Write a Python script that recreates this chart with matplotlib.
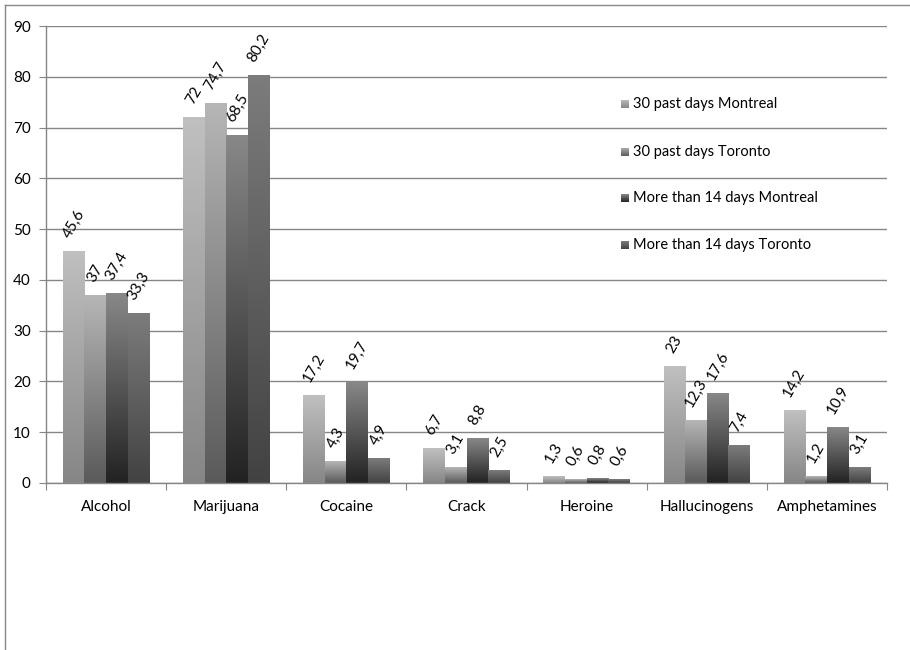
import numpy as np
import matplotlib
matplotlib.use("Agg")
import matplotlib.pyplot as plt
from matplotlib.colors import LinearSegmentedColormap
from matplotlib.lines import Line2D

categories = ["Alcohol", "Marijuana", "Cocaine", "Crack", "Heroine", "Hallucinogens", "Amphetamines"]
series_names = ["30 past days Montreal", "30 past days Toronto",
                "More than 14 days Montreal", "More than 14 days Toronto"]
montreal_30 = [45.6, 72, 17.2, 6.7, 1.3, 23, 14.2]
toronto_30 = [37, 74.7, 4.3, 3.1, 0.6, 12.3, 1.2]
montreal_14 = [37.4, 68.5, 19.7, 8.8, 0.8, 17.6, 10.9]
toronto_14 = [33.3, 80.2, 4.9, 2.5, 0.6, 7.4, 3.1]
y_ticks = [0, 10, 20, 30, 40, 50, 60, 70, 80, 90]

series = [montreal_30, toronto_30, montreal_14, toronto_14]
# (bottom colour, top colour)
grads = [("#868686", "#c0c0c0"), ("#5a5a5a", "#b6b6b6"),
         ("#222222", "#888888"), ("#424242", "#7c7c7c")]

plt.rcParams['font.family'] = ['Lato', 'DejaVu Sans']
FS = 11
LFS = 10.5

W, H = 910, 650
fig = plt.figure(figsize=(W / 100, H / 100), dpi=100)
ax = fig.add_axes([46 / W, 1 - 483 / H, (887 - 46) / W, (483 - 26) / H])

gcol = "#868686"
bar_w = 0.18
group_start = 0.14
grad = np.linspace(0, 1, 256).reshape(-1, 1)

for s, (vals, (cb, ct)) in enumerate(zip(series, grads)):
    cmap = LinearSegmentedColormap.from_list(f"g{s}", [cb, ct])
    for i, v in enumerate(vals):
        x0 = i + group_start + s * bar_w
        x1 = x0 + bar_w
        ax.imshow(grad, extent=(x0, x1, 0, v), origin="lower", aspect="auto",
                  cmap=cmap, zorder=2, interpolation="bilinear")
        lab = f"{v:g}".replace(".", ",")
        ax.annotate(lab, xy=((x0 + x1) / 2, v), xytext=(0, 8), textcoords="offset points",
                    rotation=60, ha="center", va="bottom", fontsize=FS,
                    color="#000000", zorder=3)

ax.set_xlim(0, len(categories))
ax.set_ylim(0, 90)
ax.set_yticks(y_ticks)
ax.set_yticklabels([str(t) for t in y_ticks], fontsize=FS)
ax.yaxis.grid(True, color=gcol, linewidth=1)
ax.set_axisbelow(True)

ax.set_xticks(np.arange(len(categories) + 1))
ax.set_xticklabels([])
ax.set_xticks(np.arange(len(categories)) + 0.5, minor=True)
ax.set_xticklabels(categories, minor=True, fontsize=FS)
ax.tick_params(axis="x", which="major", length=5, color=gcol, direction="out")
ax.tick_params(axis="x", which="minor", length=0, pad=12)
ax.tick_params(axis="y", length=5, color=gcol, direction="out", pad=6)

for side in ["top", "right"]:
    ax.spines[side].set_visible(False)
for side in ["left", "bottom"]:
    ax.spines[side].set_color(gcol)
    ax.spines[side].set_linewidth(1)

# legend (manual, frameless)
leg_y = [104, 152, 198, 245]
for s, (name, (cb, ct)) in enumerate(zip(series_names, grads)):
    yc = leg_y[s]
    cmap = LinearSegmentedColormap.from_list(f"l{s}", [cb, ct])
    lax = fig.add_axes([621 / W, 1 - (yc + 4) / H, 8 / W, 8 / H])
    lax.imshow(grad, origin="lower", aspect="auto", cmap=cmap)
    lax.axis("off")
    fig.text(633 / W, 1 - yc / H, name, ha="left", va="center", fontsize=LFS, color="#000000")

# outer border (left and top visible)
fig.add_artist(Line2D([5 / W, 5 / W], [0, 1 - 5 / H], color="#888888", linewidth=1,
                      transform=fig.transFigure))
fig.add_artist(Line2D([5 / W, 1], [1 - 5 / H, 1 - 5 / H], color="#888888", linewidth=1,
                      transform=fig.transFigure))

fig.savefig("out.png", dpi=100, facecolor="white")
